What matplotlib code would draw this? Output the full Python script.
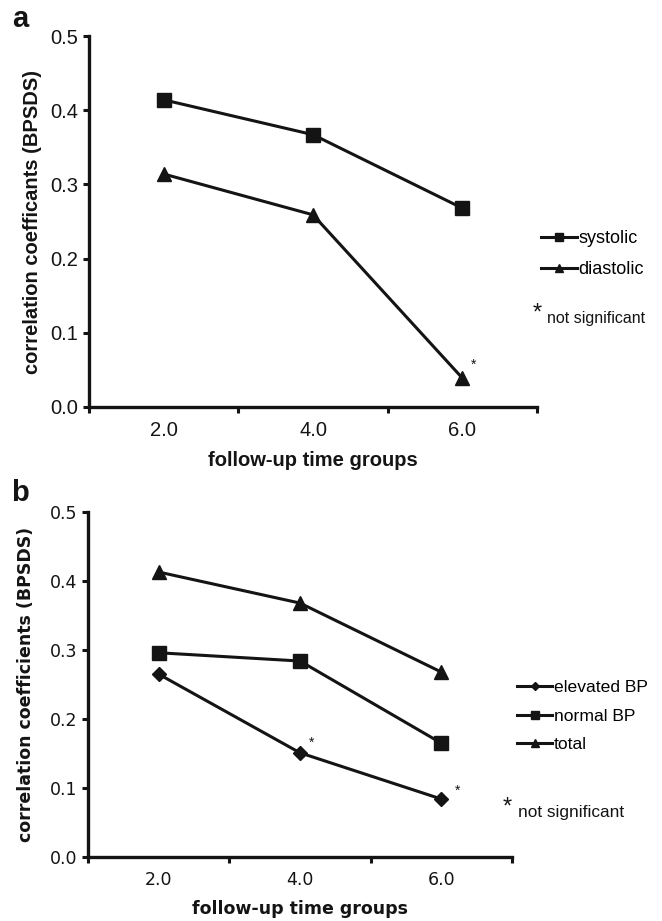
import matplotlib
matplotlib.use("Agg")
import matplotlib.pyplot as plt
import numpy as np

# panel a
groups = ["2.0", "4.0", "6.0"]
systolic = [0.414, 0.367, 0.268]
diastolic = [0.314, 0.259, 0.039]

# panel b
elevated_bp = [0.265, 0.151, 0.084]
normal_bp = [0.296, 0.284, 0.165]
total = [0.413, 0.368, 0.268]

W, H = 662, 921
fig = plt.figure(figsize=(W / 100, H / 100), dpi=100)
INK = "#141414"


def fx(px):
    return px / W


def fy(py):
    return 1 - py / H


def px_axes(left, top, right, bottom):
    return fig.add_axes([fx(left), fy(bottom), (right - left) / W, (bottom - top) / H])


def style_axes(ax, font, size):
    x = np.arange(len(groups))
    ax.set_xlim(-0.5, len(groups) - 0.5)
    ax.set_ylim(0, 0.5)
    yt = np.arange(0, 0.51, 0.1)
    ax.set_yticks(yt)
    ax.set_yticklabels([f"{v:.1f}" for v in yt], family=font, fontsize=size, color=INK)
    ax.set_xticks(np.arange(-0.5, len(groups), 1.0))
    ax.set_xticklabels([])
    ax.set_xticks(x, minor=True)
    ax.set_xticklabels(groups, minor=True, family=font, fontsize=size, color=INK)
    ax.tick_params(axis="x", which="minor", length=0, pad=10)
    ax.tick_params(axis="both", which="major", length=4, width=2.2, direction="out",
                   color=INK)
    ax.tick_params(axis="y", pad=4)
    for s in ["top", "right"]:
        ax.spines[s].set_visible(False)
    for s in ["left", "bottom"]:
        ax.spines[s].set_linewidth(2.4)
        ax.spines[s].set_color(INK)
    return x


def star(ax, xv, yv, dx, dy):
    ax.annotate("*", (xv, yv), xytext=(dx, dy), textcoords="offset pixels",
                ha="center", va="center", fontsize=10, family="Liberation Sans", color=INK)


# ---- panel a ----
ax1 = px_axes(89, 36, 537, 407)
x = style_axes(ax1, "Liberation Sans", 14.5)
ax1.plot(x, systolic, "-s", color=INK, lw=2.2, ms=10, label="systolic")
ax1.plot(x, diastolic, "-^", color=INK, lw=2.2, ms=10, label="diastolic")
ax1.set_ylabel("correlation coefficants (BPSDS)", family="Liberation Sans",
               fontsize=14.5, fontweight="bold", labelpad=6, color=INK)
ax1.set_xlabel("follow-up time groups", family="Liberation Sans",
               fontsize=14.5, fontweight="bold", labelpad=8, color=INK)
star(ax1, x[2], diastolic[2], 11, 13)
ax1.legend(loc="center left", bbox_to_anchor=(fx(541), fy(254)), bbox_transform=fig.transFigure,
           frameon=False, borderpad=0, borderaxespad=0, handlelength=2.0,
           handletextpad=0.05, markerscale=0.55, labelspacing=0.78,
           prop={"family": "Liberation Sans", "size": 13})
fig.text(fx(537), fy(314), "*", fontsize=17, family="Liberation Sans", ha="center",
         va="center", color=INK)
fig.text(fx(547), fy(318), "not significant", fontsize=11.5,
         family="Liberation Sans", va="center", color=INK)
fig.text(fx(20), fy(19), "a", fontsize=21, fontweight="bold",
         family="Liberation Sans", ha="center", va="center", color=INK)

# ---- panel b ----
ax2 = px_axes(88, 512, 512, 857)
x = style_axes(ax2, "DejaVu Sans", 12.5)
ax2.plot(x, elevated_bp, "-D", color=INK, lw=2.2, ms=7, label="elevated BP")
ax2.plot(x, normal_bp, "-s", color=INK, lw=2.2, ms=10, label="normal BP")
ax2.plot(x, total, "-^", color=INK, lw=2.2, ms=10, label="total")
ax2.set_ylabel("correlation coefficients (BPSDS)", family="DejaVu Sans",
               fontsize=12.5, fontweight="bold", labelpad=10, color=INK)
ax2.set_xlabel("follow-up time groups", family="DejaVu Sans",
               fontsize=12.5, fontweight="bold", labelpad=8, color=INK)
star(ax2, x[1], elevated_bp[1], 12, 10)
star(ax2, x[2], elevated_bp[2], 16, 8)
ax2.legend(loc="center left", bbox_to_anchor=(fx(517), fy(716)), bbox_transform=fig.transFigure,
           frameon=False, borderpad=0, borderaxespad=0, handlelength=2.0,
           handletextpad=0.1, markerscale=0.55, labelspacing=0.76,
           prop={"family": "Liberation Sans", "size": 12.6})
fig.text(fx(507), fy(808), "*", fontsize=17, family="Liberation Sans", ha="center",
         va="center", color=INK)
fig.text(fx(518), fy(812), "not significant", fontsize=12.4,
         family="Liberation Sans", va="center", color=INK)
fig.text(fx(20), fy(493), "b", fontsize=21, fontweight="bold",
         family="Liberation Sans", ha="center", va="center", color=INK)

fig.savefig("out.png", dpi=100)
